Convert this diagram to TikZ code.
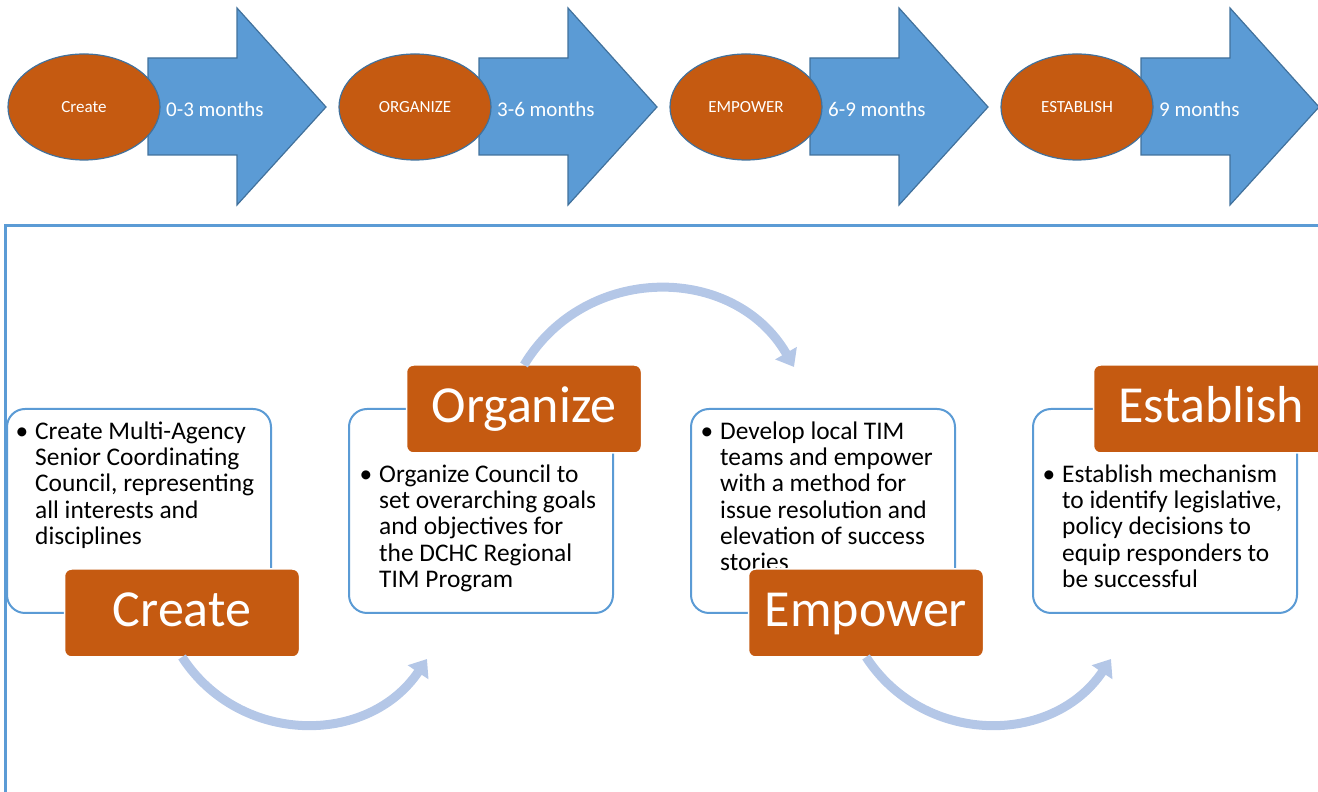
\documentclass[tikz,border=0pt]{standalone}
\usepackage{fontspec}
\setmainfont{Carlito}
\usetikzlibrary{shapes.geometric,arrows.meta,positioning}
\definecolor{rust}{HTML}{C55A11}
\definecolor{steel}{HTML}{5B9BD5}
\definecolor{steeldark}{HTML}{41719C}
\definecolor{pale}{HTML}{B4C7E7}
\newcommand{\timearrow}[1]{\draw[timearrow,xshift=#1pt] (148,637) -- (148,734) -- (237,734) -- (237,784) -- (326,685) -- (237,587) -- (237,637) -- cycle;}
\tikzstyle{timearrow} = [fill=steel, draw=steeldark, line width=1.2pt]
\tikzstyle{phase} = [ellipse, fill=rust, draw=steeldark, line width=1.2pt, minimum width=152pt, minimum height=106pt, inner sep=0pt, text=white, font=\fontsize{17}{20}\selectfont]
\tikzstyle{period} = [anchor=base west, inner sep=0pt, text=white, font=\fontsize{21}{25}\selectfont]
\tikzstyle{card} = [draw=steel, fill=white, line width=2pt, rounded corners=18pt, minimum width=264pt, minimum height=204pt, outer sep=0pt]
\tikzstyle{cardtext} = [align=left, inner sep=0pt, font=\fontsize{25.4}{26.3}\selectfont]
\tikzstyle{cardtitle} = [fill=rust, draw=white, line width=1.5pt, rounded corners=7pt, minimum width=235pt, minimum height=88pt, inner sep=0pt, outer sep=0pt, text=white, font=\fontsize{52}{60}\selectfont, text height=33pt, text depth=6pt]
\tikzstyle{bendarrow} = [draw=pale, line width=9pt, -{Triangle[width=24pt,length=16pt]}]
\newcommand{\bul}{\llap{\textbullet\hspace{7pt}}\strut}

\begin{document}
\begin{tikzpicture}[x=1pt, y=1pt]
		\useasboundingbox (0,0) rectangle (1318,792);
		% top row
		\timearrow{0} \timearrow{331} \timearrow{662} \timearrow{993}
		\node[phase] (p1) at (84,685) {Create};
		\node[phase] (p2) at (415,685) {ORGANIZE};
		\node[phase] (p3) at (746,685) {EMPOWER};
		\node[phase] (p4) at (1077,685) {ESTABLISH};
		\node[period] (t1) at (166,675) {0-3 months};
		\node[period] (t2) at (497,675) {3-6 months};
		\node[period] (t3) at (828,675) {6-9 months};
		\node[period] (t4) at (1159,675) {9 months};
		\draw[steel, line width=3pt] (5,-5) -- (5,566) -- (1325,566);
		% cards
		\node[card] (c1) at (139,281) {};
		\node[card] (c2) at (481,281) {};
		\node[card] (c3) at (823,281) {};
		\node[card] (c4) at (1165,281) {};
		\node[cardtext, below right=11.6pt and 28pt of c1.north west] (x1) {\bul Create Multi-Agency\\ Senior Coordinating\\ Council, representing\\ all interests and\\ disciplines};
		\node[cardtext, below right=54.6pt and 30pt of c2.north west] (x2) {\bul Organize Council to\\ set overarching goals\\ and objectives for\\ the DCHC Regional\\ TIM Program};
		\node[cardtext, below right=11.6pt and 29pt of c3.north west] (x3) {\bul Develop local TIM\\ teams and empower\\ with a method for\\ issue resolution and\\ elevation of success\\ stories};
		\node[cardtext, below right=54.6pt and 29pt of c4.north west] (x4) {\bul Establish mechanism\\ to identify legislative,\\ policy decisions to\\ equip responders to\\ be successful};
		\node[cardtitle] (l1) at ([xshift=43pt]c1.south) {Create};
		\node[cardtitle] (l2) at ([xshift=43pt]c2.north) {Organize};
		\node[cardtitle] (l3) at ([xshift=43pt]c3.south) {Empower};
		\node[cardtitle] (l4) at ([xshift=46pt]c4.north) {Establish};
		% arrows between cards
		\coordinate (e1) at (427,133);
		\coordinate (e2) at (794,425);
		\coordinate (e3) at (1111,133);
		\draw[bendarrow] (l1.south) to[out=-57, in=-124, looseness=1.1] (e1);
		\draw[bendarrow] (l2.north) to[out=59, in=120, looseness=1.13] (e2);
		\draw[bendarrow] (l3.south) to[out=-57, in=-124, looseness=1.1] (e3);
	\end{tikzpicture}
\end{document}
